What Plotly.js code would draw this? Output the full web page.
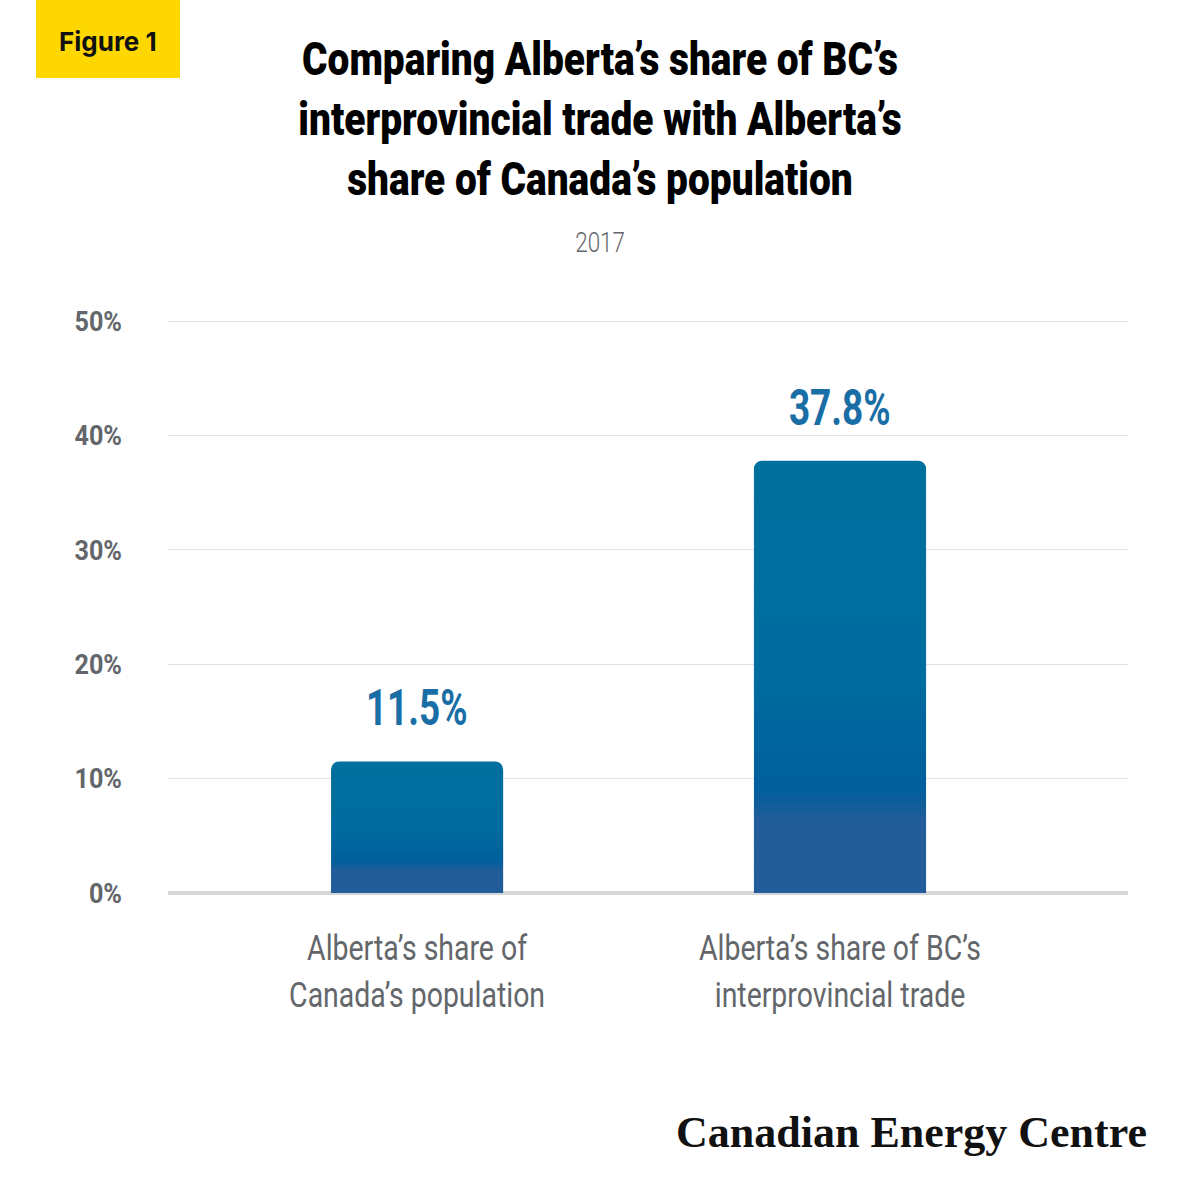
<!DOCTYPE html>
<html>
<head>
<meta charset="utf-8">
<script src="https://cdn.plot.ly/plotly-3.0.1.min.js"></script>
<style>
	html, body { margin: 0; padding: 0; background: #fff; }
	#chart { width: 1200px; height: 1200px; }
</style>
</head>
<body>
<div id="chart"></div>
<script>
const categories = [
	"Alberta’s share of<br>Canada’s population",
	"Alberta’s share of BC’s<br>interprovincial trade"
];
const shares = [11.5, 37.8];
const valueLabels = ["11.5%", "37.8%"];
const yTicks = [0, 10, 20, 30, 40, 50];
const yTickText = yTicks.map(v => v + '%');

// no condensed face installed, so Roboto gets squeezed horizontally after render
const SANS = 'Roboto, "Liberation Sans", sans-serif';
const GREY = '#63666a';
const BLUE = '#1a6ea6';

// paper coords helpers (plot area is 168..1128 x, 320..893 y)
const px = x => (x - 168) / 960;
const py = y => (893 - y) / 573;

const bars = {
	type: 'bar',
	x: [0, 1],
	y: shares,
	width: 0.407,
	marker: { color: '#006d9f', cornerradius: 8, line: { width: 0 } },
	hoverinfo: 'skip'
};

const annotations = shares.map((v, i) => ({
	x: i, y: v, xref: 'x', yref: 'y',
	text: valueLabels[i],
	showarrow: false,
	yanchor: 'bottom', yshift: 22,
	font: { family: SANS, size: 50, color: BLUE, weight: 'bold' }
}));

annotations.push(
	{
		xref: 'paper', yref: 'paper', x: px(108), y: py(41),
		text: 'Figure 1', showarrow: false,
		xanchor: 'center', yanchor: 'middle',
		font: { family: 'Inter, Roboto, sans-serif', size: 26, color: '#111', weight: 'bold' }
	},
	{
		xref: 'paper', yref: 'paper', x: 0.5 * (px(0) + px(1200)), y: py(243),
		text: '2017', showarrow: false,
		xanchor: 'center', yanchor: 'middle',
		font: { family: SANS, size: 28, color: GREY, weight: 300 }
	},
	{
		xref: 'paper', yref: 'paper', x: px(1149), y: py(1132),
		text: '<b>Canadian Energy Centre</b>', showarrow: false,
		xanchor: 'right', yanchor: 'middle',
		font: { family: '"Liberation Serif", "DejaVu Serif", serif', size: 44, color: '#111' }
	}
);

const layout = {
	width: 1200,
	height: 1200,
	margin: { l: 168, r: 72, t: 320, b: 307, pad: 0 },
	paper_bgcolor: '#fff',
	plot_bgcolor: '#fff',
	showlegend: false,
	title: {
		text: 'Comparing Alberta’s share of BC’s<br>interprovincial trade with Alberta’s<br>share of Canada’s population',
		x: 0.5, xanchor: 'center',
		y: 1 - 75 / 1200, yanchor: 'top', yref: 'container',
		pad: { t: 0, b: 0 },
		font: { family: SANS, size: 46, color: '#000', weight: 900 }
	},
	xaxis: {
		range: [-0.589, 1.681],
		tickvals: [0, 1],
		ticktext: categories,
		showgrid: false,
		zeroline: false,
		showline: false,
		ticks: '',
		ticklabelstandoff: 30,
		tickfont: { family: SANS, size: 36, color: GREY },
		fixedrange: true
	},
	yaxis: {
		range: [0, 50.1],
		tickvals: yTicks,
		ticktext: yTickText,
		showgrid: true,
		gridcolor: '#e2e2e2',
		gridwidth: 1,
		zeroline: true,
		zerolinecolor: '#d6d6d6',
		zerolinewidth: 4,
		showline: false,
		ticks: '',
		ticklabelstandoff: 45,
		tickfont: { family: SANS, size: 28, color: GREY, weight: 'bold' },
		fixedrange: true
	},
	shapes: [{
		type: 'rect', xref: 'paper', yref: 'paper',
		x0: px(36), x1: px(180), y0: py(78), y1: py(-2),
		fillcolor: '#ffd700', line: { width: 0 }, layer: 'below'
	}],
	annotations
};

// squeeze a text element sideways around its anchor
function condense(el, s) {
	const b = el.getBBox();
	const anchor = el.getAttribute('text-anchor') || 'start';
	const ax = anchor === 'end' ? b.x + b.width : anchor === 'middle' ? b.x + b.width / 2 : b.x;
	const old = el.getAttribute('transform') || '';
	el.setAttribute('transform', `${old} translate(${ax},0) scale(${s},1) translate(${-ax},0)`);
}

Plotly.newPlot('chart', [bars], layout, { displayModeBar: false, staticPlot: true }).then(gd => {
	const svg = gd.querySelector('svg.main-svg');
	const ns = 'http://www.w3.org/2000/svg';

	// vertical gradient on the bars, same shape per bar
	let defs = svg.querySelector('defs');
	if (!defs) { defs = document.createElementNS(ns, 'defs'); svg.insertBefore(defs, svg.firstChild); }
	const grad = document.createElementNS(ns, 'linearGradient');
	grad.setAttribute('id', 'barGrad');
	grad.setAttribute('x1', '0'); grad.setAttribute('y1', '0');
	grad.setAttribute('x2', '0'); grad.setAttribute('y2', '1');
	[['0', '#00709f'], ['0.5', '#006c9f'], ['0.76', '#005f9c'], ['0.83', '#215d9a'], ['1', '#225c9a']]
		.forEach(([o, c]) => {
			const s = document.createElementNS(ns, 'stop');
			s.setAttribute('offset', o);
			s.setAttribute('stop-color', c);
			grad.appendChild(s);
		});
	defs.appendChild(grad);
	gd.querySelectorAll('.bars .point path').forEach(p => { p.style.fill = 'url(#barGrad)'; });

	gd.querySelectorAll('.gtitle').forEach(t => condense(t, 0.845));
	gd.querySelectorAll('.xtick text').forEach(t => condense(t, 0.79));
	gd.querySelectorAll('.ytick text').forEach(t => condense(t, 0.9));
	const ann = gd.querySelectorAll('.annotation-text');
	[0, 1].forEach(i => condense(ann[i], 0.74));
	condense(ann[3], 0.8);
});
</script>
</body>
</html>
